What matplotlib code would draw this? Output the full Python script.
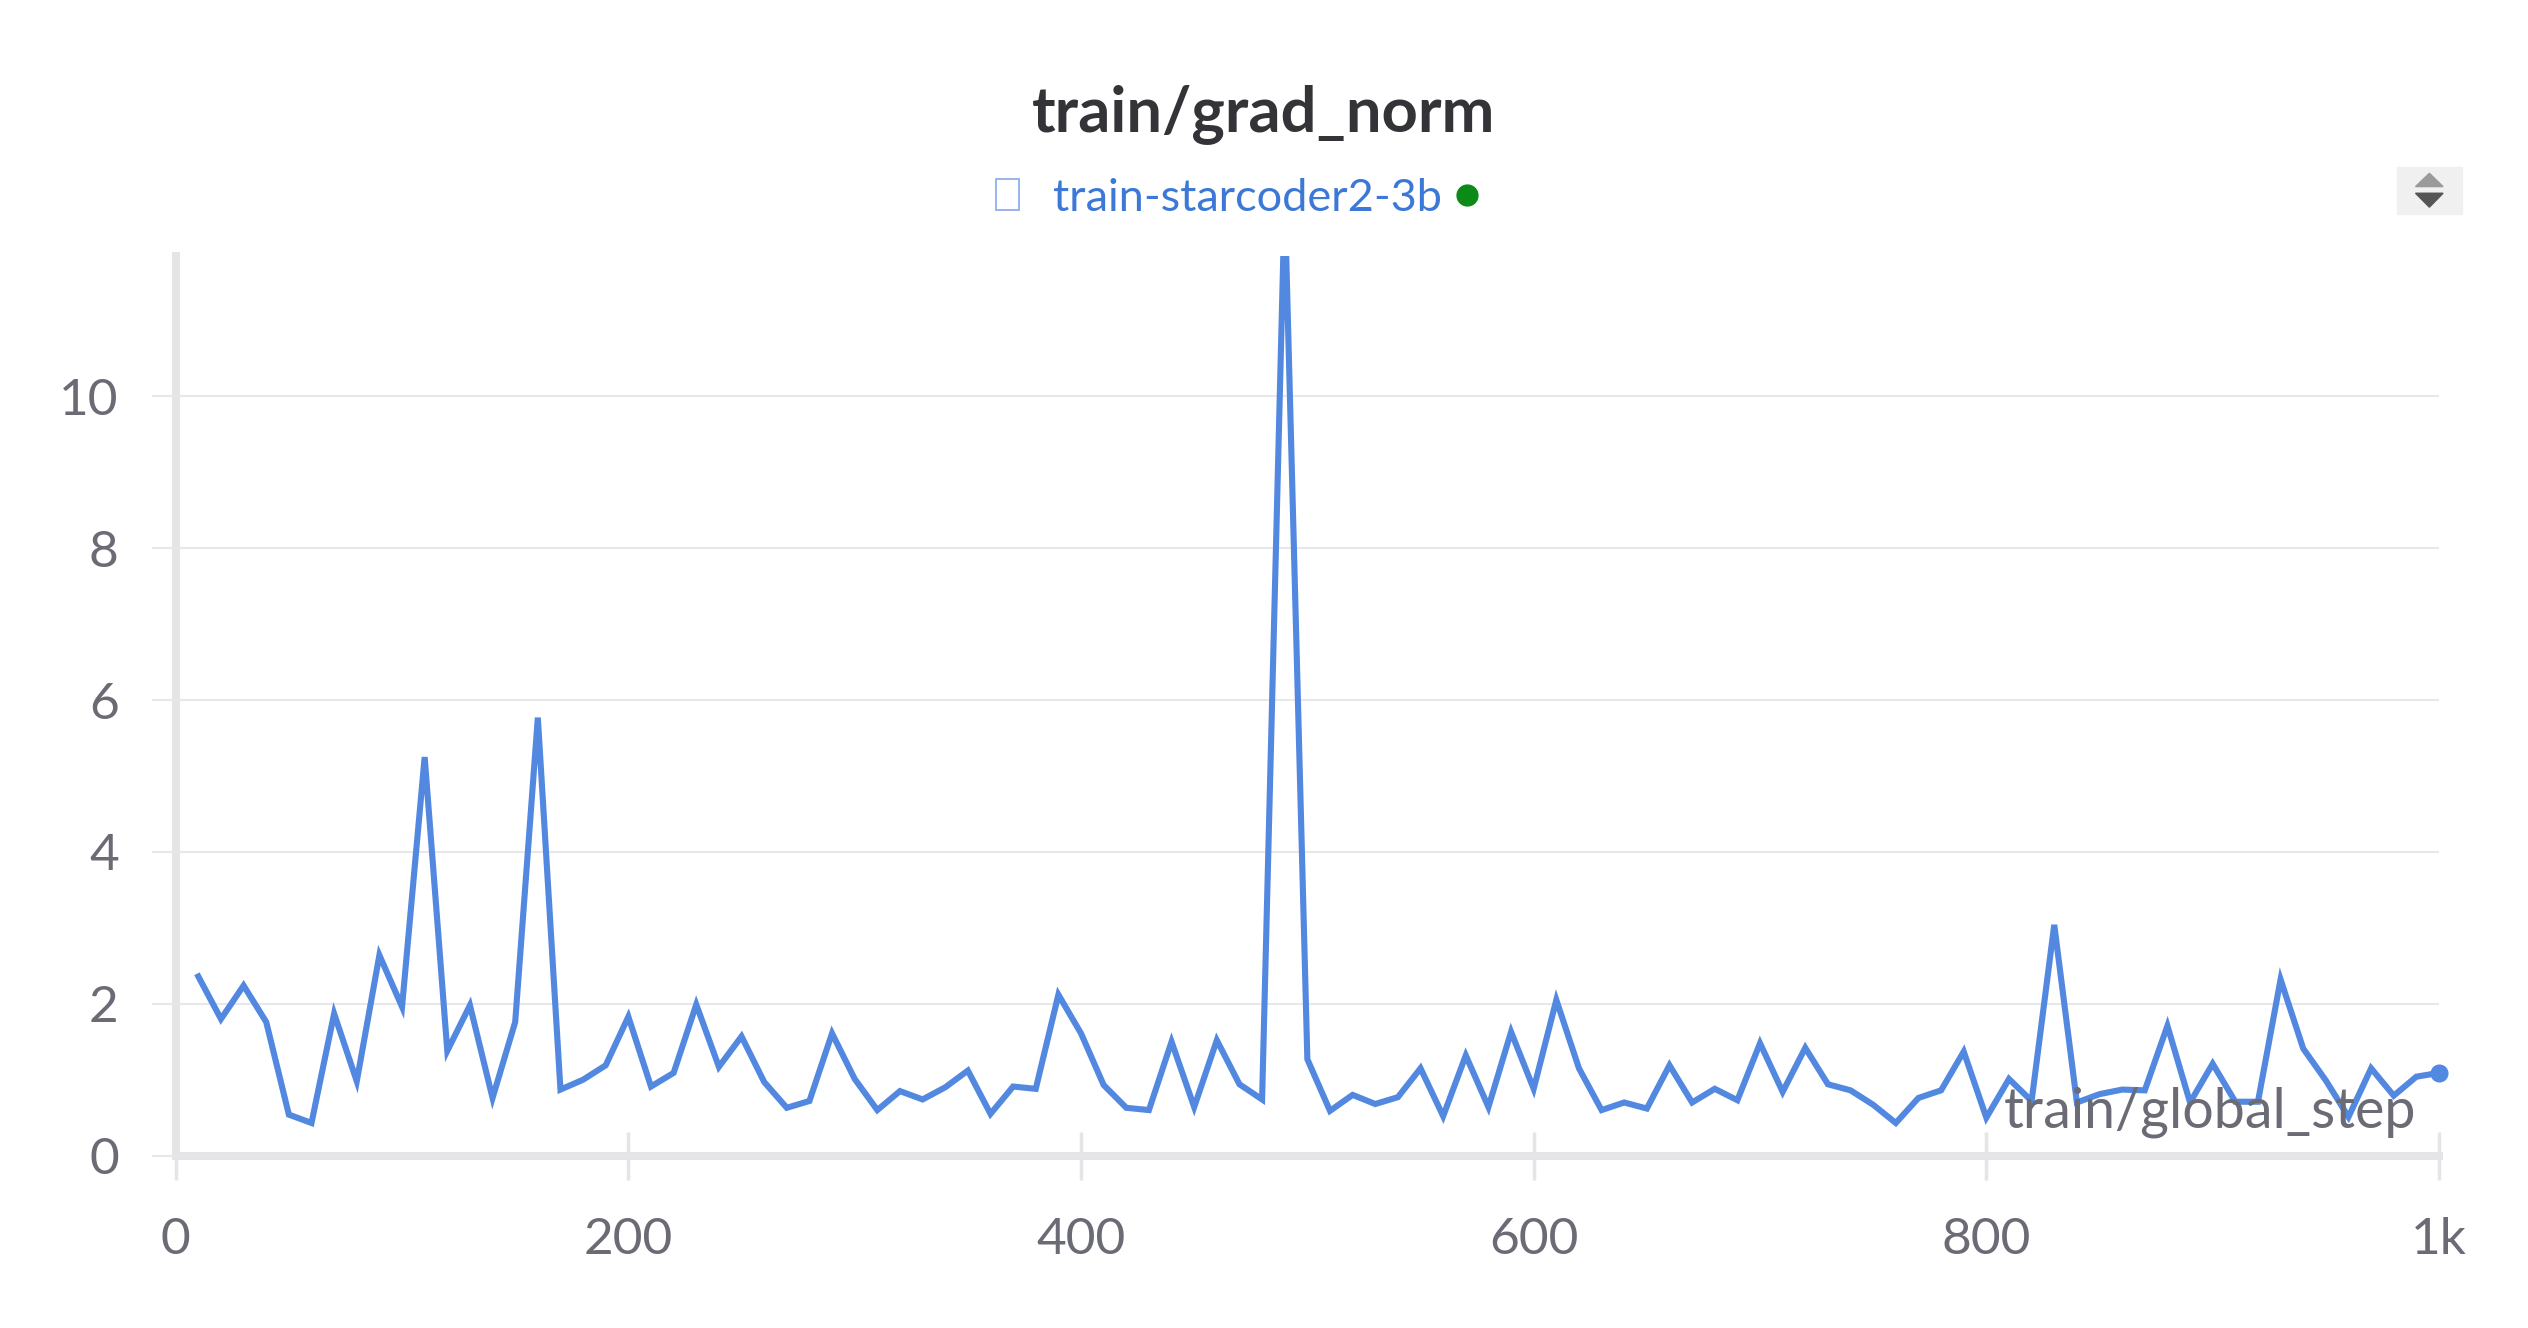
import numpy as np
import matplotlib
matplotlib.use("Agg")
import matplotlib.pyplot as plt
from matplotlib.patches import Rectangle, Polygon
from matplotlib.lines import Line2D

plt.rcParams['font.family'] = ['Lato', 'DejaVu Sans']

# train/grad_norm, logged every 10 steps
steps = list(range(10, 1001, 10))
grad_norm = [
    2.36, 1.80, 2.24, 1.76, 0.54, 0.43, 1.87, 0.98, 2.64, 1.96,
    5.25, 1.38, 1.98, 0.76, 1.76, 5.77, 0.87, 1.00, 1.19, 1.83,
    0.91, 1.09, 1.99, 1.17, 1.57, 0.97, 0.63, 0.72, 1.61, 1.01,
    0.60, 0.85, 0.74, 0.90, 1.12, 0.55, 0.91, 0.88, 2.12, 1.61,
    0.93, 0.63, 0.60, 1.50, 0.64, 1.52, 0.94, 0.74, 12.6, 1.27,
    0.59, 0.80, 0.68, 0.77, 1.15, 0.52, 1.32, 0.64, 1.63, 0.88,
    2.05, 1.15, 0.60, 0.70, 0.62, 1.19, 0.70, 0.88, 0.73, 1.48,
    0.84, 1.42, 0.94, 0.86, 0.67, 0.43, 0.76, 0.86, 1.37, 0.50,
    1.01, 0.72, 3.04, 0.70, 0.81, 0.87, 0.86, 1.71, 0.70, 1.21,
    0.71, 0.71, 2.32, 1.41, 0.99, 0.51, 1.15, 0.79, 1.04, 1.09,
]
xticks = [0, 200, 400, 600, 800, 1000]
xtick_labels = ['0', '200', '400', '600', '800', '1k']
yticks = [0, 2, 4, 6, 8, 10]

line_color = '#5288e0'
axis_color = '#e5e5e8'
grid_color = '#e8e8ea'
text_color = '#6b6b76'

fig = plt.figure(figsize=(25.28, 13.28), dpi=100)
ax = fig.add_axes([0.0695, 0.1298, 0.8953, 0.6774])

ax.plot(steps, grad_norm, color=line_color, lw=4.4, solid_joinstyle='miter')
ax.plot(steps[-1], grad_norm[-1], 'o', color=line_color, ms=12, clip_on=False)

ax.set_xlim(0, 1000)
ax.set_ylim(0, 11.85)
ax.set_xticks(xticks)
ax.set_xticklabels(xtick_labels)
ax.set_yticks(yticks)
ax.yaxis.grid(True, color=grid_color, lw=1.5)
ax.set_axisbelow(True)

for s in ['top', 'right']:
    ax.spines[s].set_visible(False)
for s in ['left', 'bottom']:
    ax.spines[s].set_color(axis_color)
    ax.spines[s].set_linewidth(5.8)
    ax.spines[s].set_zorder(0.5)

ax.tick_params(axis='x', direction='inout', length=34, width=2.5, color=axis_color,
               labelsize=37, labelcolor=text_color, pad=27)
ax.tick_params(axis='y', direction='out', length=17, width=1.5, color=grid_color,
               labelsize=37, labelcolor=text_color, pad=24)

ax.text(0.99, 0.02, 'train/global_step', transform=ax.transAxes, ha='right', va='bottom',
        fontsize=40, color=text_color)

# title and run legend
fig.text(0.5, 0.914, 'train/grad_norm', ha='center', va='center', fontsize=45.5,
         fontweight='bold', color='#343438')
fig.patches.append(Rectangle((0.394, 0.842), 0.0089, 0.023, transform=fig.transFigure,
                             fill=False, edgecolor='#8fb0ec', lw=1.3))
fig.text(0.4165, 0.841, 'train-starcoder2-3b', ha='left', va='baseline', fontsize=32.5,
         color='#3b78d8')
fig.add_artist(Line2D([0.5803], [0.853], marker='o', ms=15, color='#0a8a17',
                      transform=fig.transFigure))

# little scroll button on the right
fig.patches.append(Rectangle((0.9482, 0.839), 0.0257, 0.035, transform=fig.transFigure,
                             color='#f0f0f0'))
fig.patches.append(Polygon([(0.9555, 0.8595), (0.9664, 0.8595), (0.9610, 0.8695)],
                           closed=True, transform=fig.transFigure, color='#9a9a9a'))
fig.patches.append(Polygon([(0.9555, 0.8545), (0.9664, 0.8545), (0.9610, 0.8440)],
                           closed=True, transform=fig.transFigure, color='#555555'))

fig.savefig('out.png', dpi=100)
